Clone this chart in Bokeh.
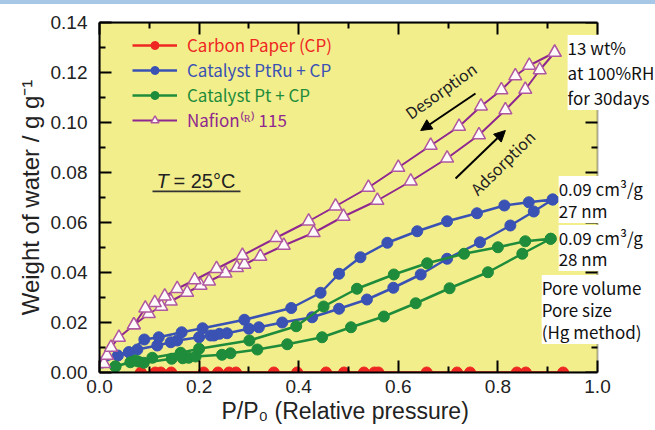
from bokeh.plotting import figure
from bokeh.layouts import column
from bokeh.models import (Range1d, LinearAxis, Legend, LegendItem, Label, Arrow, Title, Div,
                          NormalHead, BoxAnnotation, FixedTicker, NumeralTickFormatter)
from bokeh.embed import file_html
from bokeh.resources import INLINE

# ---------------- data ----------------
cp_x = [0.083, 0.112, 0.123, 0.144, 0.209, 0.238, 0.260, 0.274, 0.350, 0.397, 0.455,
        0.491, 0.531, 0.552, 0.560, 0.657, 0.718, 0.744, 0.838, 0.856, 0.931]
cp_y = [0.0] * len(cp_x)

ptru_ads_x = [0.005, 0.037, 0.059, 0.076, 0.116, 0.143, 0.156, 0.200, 0.223, 0.230, 0.241,
              0.256, 0.300, 0.320, 0.367, 0.427, 0.481, 0.537, 0.590, 0.645, 0.698, 0.764,
              0.825, 0.872, 0.910]
ptru_ads_y = [0.0040, 0.0068, 0.0081, 0.0092, 0.0108, 0.0121, 0.0128, 0.0141, 0.0148, 0.0148,
              0.0155, 0.0157, 0.0175, 0.0181, 0.0200, 0.0221, 0.0255, 0.0292, 0.0339, 0.0392,
              0.0455, 0.0521, 0.0588, 0.0644, 0.0692]
ptru_des_x = [0.910, 0.862, 0.813, 0.758, 0.698, 0.638, 0.578, 0.524, 0.481, 0.444, 0.385,
              0.291, 0.207, 0.165, 0.119, 0.090, 0.059]
ptru_des_y = [0.0692, 0.0681, 0.0668, 0.0637, 0.0605, 0.0565, 0.0519, 0.0461, 0.0395, 0.0319,
              0.0258, 0.0211, 0.0177, 0.0161, 0.0141, 0.0132, 0.0081]

pt_ads_x = [0.032, 0.062, 0.089, 0.145, 0.167, 0.179, 0.193, 0.246, 0.263, 0.317, 0.377,
            0.447, 0.505, 0.571, 0.635, 0.703, 0.780, 0.849, 0.906]
pt_ads_y = [0.0024, 0.0041, 0.0039, 0.0055, 0.0057, 0.0059, 0.0064, 0.0071, 0.0077, 0.0092,
            0.0113, 0.0141, 0.0181, 0.0224, 0.0277, 0.0337, 0.0401, 0.0475, 0.0535]
pt_des_x = [0.906, 0.855, 0.800, 0.732, 0.658, 0.591, 0.517, 0.450, 0.395, 0.301, 0.200,
            0.163, 0.106, 0.078, 0.072, 0.032]
pt_des_y = [0.0535, 0.0525, 0.0501, 0.0475, 0.0437, 0.0392, 0.0335, 0.0264, 0.0185, 0.0128,
            0.0095, 0.0079, 0.0059, 0.0044, 0.0048, 0.0024]

naf_ads_x = [0.009, 0.015, 0.023, 0.039, 0.069, 0.099, 0.124, 0.143, 0.176, 0.203, 0.220,
             0.253, 0.276, 0.291, 0.323, 0.370, 0.430, 0.490, 0.558, 0.625, 0.698, 0.762,
             0.815, 0.855, 0.884, 0.914]
naf_ads_y = [0.0035, 0.0068, 0.0100, 0.0140, 0.0190, 0.0235, 0.0264, 0.0285, 0.0320, 0.0348,
             0.0365, 0.0397, 0.0419, 0.0432, 0.0464, 0.0508, 0.0559, 0.0624, 0.0688, 0.0765,
             0.0857, 0.0950, 0.1050, 0.1132, 0.1210, 0.1280]
naf_des_x = [0.914, 0.863, 0.835, 0.807, 0.766, 0.722, 0.665, 0.600, 0.540, 0.474, 0.420,
             0.355, 0.287, 0.235, 0.191, 0.156, 0.131, 0.111, 0.092, 0.069]
naf_des_y = [0.1280, 0.1228, 0.1186, 0.1130, 0.1065, 0.0984, 0.0908, 0.0820, 0.0740, 0.0665,
             0.0605, 0.0539, 0.0468, 0.0415, 0.0370, 0.0335, 0.0305, 0.0279, 0.0257, 0.0190]

legend_labels = ["Carbon Paper (CP)", "Catalyst PtRu + CP", "Catalyst Pt + CP", "Nafion⁽ᴿ⁾ 115"]
x_ticks = [0.0, 0.2, 0.4, 0.6, 0.8, 1.0]
x_minor = [0.1, 0.3, 0.5, 0.7, 0.9]
y_ticks = [0.00, 0.02, 0.04, 0.06, 0.08, 0.10, 0.12, 0.14]
y_minor = [0.01, 0.03, 0.05, 0.07, 0.09, 0.11, 0.13]

# ---------------- style ----------------
RED = "#ee2722"
BLUE = "#3a52b4"
GREEN = "#1e8c3a"
PURPLE = "#8e278f"
TRI = "#b0589f"
BG = "#f3ee8c"
AXF = "Liberation Sans"
GF = "Noto Sans CJK JP"
TXT = "#222222"

PX_PER_X = 498.0           # pixel width of one x unit (plot box 0..1)
FRAME_W = 554              # frame extends right of x=1 to leave room for notes
BAR_H = 4                  # thin header strip above the chart

p = figure(width=655, height=430 - BAR_H, output_backend="svg", toolbar_location=None,
           x_range=Range1d(0, FRAME_W / PX_PER_X), y_range=Range1d(0, 0.14),
           min_border_left=99, min_border_right=655 - 99 - FRAME_W,
           min_border_top=22 - BAR_H, min_border_bottom=58, margin=0)
p.background_fill_color = "white"
p.border_fill_color = "white"
p.grid.visible = False
p.outline_line_color = None

# yellow plot box (x 0..1, y 0..0.14) with black right edge
p.add_layout(BoxAnnotation(left=0, right=1, bottom=0, top=0.14, fill_color=BG, fill_alpha=1.0,
                           line_color="black", line_width=2, level="underlay"))


def style_axis(ax, labels=True):
    ax.axis_line_width = 2
    ax.axis_line_color = "black"
    ax.major_tick_in = 12
    ax.major_tick_out = 0
    ax.minor_tick_in = 6
    ax.minor_tick_out = 0
    ax.major_tick_line_width = 2
    ax.minor_tick_line_width = 2
    ax.major_tick_line_color = "black"
    ax.minor_tick_line_color = "black"
    if labels:
        ax.major_label_text_font = AXF
        ax.major_label_text_font_size = "19px"
        ax.major_label_text_color = TXT
    else:
        ax.major_label_text_color = None
        ax.major_label_standoff = 0


p.xaxis.ticker = FixedTicker(ticks=x_ticks, minor_ticks=x_minor)
p.yaxis.ticker = FixedTicker(ticks=y_ticks, minor_ticks=y_minor)
p.xaxis.formatter = NumeralTickFormatter(format="0.0")
p.yaxis.formatter = NumeralTickFormatter(format="0.00")
p.xaxis.bounds = (0, 1)
style_axis(p.xaxis[0])
style_axis(p.yaxis[0])
p.xaxis.major_label_standoff = 7
p.yaxis.major_label_standoff = 12
p.yaxis.axis_label = "Weight of water / g g⁻¹"
p.yaxis.axis_label_text_font = AXF
p.yaxis.axis_label_text_font_size = "24px"
p.yaxis.axis_label_text_font_style = "normal"
p.yaxis.axis_label_text_color = TXT
p.yaxis.axis_label_standoff = 4

top = LinearAxis(ticker=FixedTicker(ticks=x_ticks, minor_ticks=x_minor), bounds=(0, 1))
style_axis(top, labels=False)
p.add_layout(top, "above")

# x-axis title
p.add_layout(Title(text="P/P₀ (Relative pressure)", align="left", offset=122,
                   text_font=AXF, text_font_size="23px", text_font_style="normal",
                   text_color=TXT, standoff=0), "below")

# right-edge ticks of the plot box (at x = 1)
p.segment(x0=[1.0] * len(y_ticks), y0=y_ticks, x1=[1.0 - 12 / PX_PER_X] * len(y_ticks),
          y1=y_ticks, line_color="black", line_width=2)
p.segment(x0=[1.0] * len(y_minor), y0=y_minor, x1=[1.0 - 6 / PX_PER_X] * len(y_minor),
          y1=y_minor, line_color="black", line_width=2)

# ---------------- series ----------------
r_cp_l = p.line(cp_x, cp_y, line_color=RED, line_width=2.5)
r_cp_m = p.scatter(cp_x, cp_y, marker="circle", size=11, fill_color=RED, line_color=RED)

ptru_x = ptru_ads_x + ptru_des_x
ptru_y = ptru_ads_y + ptru_des_y
r_ptru_l = p.line(ptru_x, ptru_y, line_color=BLUE, line_width=2.5)
r_ptru_m = p.scatter(ptru_x, ptru_y, marker="circle", size=11, fill_color=BLUE, line_color=BLUE)

pt_x = pt_ads_x + pt_des_x
pt_y = pt_ads_y + pt_des_y
r_pt_l = p.line(pt_x, pt_y, line_color=GREEN, line_width=2.5)
r_pt_m = p.scatter(pt_x, pt_y, marker="circle", size=11, fill_color=GREEN, line_color=GREEN)

naf_x = naf_ads_x + naf_des_x
naf_y = naf_ads_y + naf_des_y
r_naf_l = p.line(naf_x, naf_y, line_color=PURPLE, line_width=2)
r_naf_m = p.scatter(naf_x, naf_y, marker="triangle", size=13, fill_color="#fffafc",
                    line_color=TRI, line_width=1.5)

# ---------------- legends ----------------
groups = [([r_cp_l, r_cp_m], RED), ([r_ptru_l, r_ptru_m], BLUE),
          ([r_pt_l, r_pt_m], GREEN), ([r_naf_l, r_naf_m], PURPLE)]
for i, (lab, (rends, col)) in enumerate(zip(legend_labels, groups)):
    lg = Legend(items=[LegendItem(label=lab, renderers=rends)],
                location=(33, 315 - 25 * i), padding=0, margin=0, spacing=0,
                glyph_width=45, glyph_height=20, label_height=20, label_standoff=10,
                label_text_font=GF, label_text_font_size="17px", label_text_color=col,
                border_line_color=None, background_fill_alpha=0)
    p.add_layout(lg)

# ---------------- annotations ----------------
def note(x, y, text):
    p.add_layout(Label(x=x, y=y, text=text, text_font=GF, text_font_size="17px",
                       text_color="#111111", text_baseline="middle",
                       background_fill_color="white", background_fill_alpha=1.0))

note(0.940, 0.130, "13 wt%")
note(0.940, 0.120, "at 100%RH")
note(0.940, 0.110, "for 30days")
note(0.922, 0.0736, "0.09 cm³/g")
note(0.922, 0.0648, "27 nm")
note(0.922, 0.0540, "0.09 cm³/g")
note(0.922, 0.0456, "28 nm")
note(0.888, 0.0340, "Pore volume")
note(0.888, 0.0252, "Pore size")
note(0.888, 0.0164, "(Hg method)")

# T = 25 C
p.add_layout(Label(x=0.1145, y=0.0768, text="T", text_font=AXF, text_font_size="20px",
                   text_font_style="italic", text_color=TXT, text_baseline="middle"))
p.add_layout(Label(x=0.1486, y=0.0768, text="= 25°C", text_font=AXF, text_font_size="20px",
                   text_color=TXT, text_baseline="middle"))
p.add_layout(BoxAnnotation(left=0.1064, right=0.2831, bottom=0.0721, top=0.0728,
                           fill_color="#333333", fill_alpha=1.0, line_color=None))

# arrows + texts
p.add_layout(Arrow(end=NormalHead(size=11, fill_color="black", line_color="black"),
                   x_start=0.755, y_start=0.1116, x_end=0.645, y_end=0.0968,
                   line_width=2, line_color="black"))
p.add_layout(Arrow(end=NormalHead(size=11, fill_color="black", line_color="black"),
                   x_start=0.715, y_start=0.0776, x_end=0.815, y_end=0.0968,
                   line_width=2, line_color="black"))
p.add_layout(Label(x=0.685, y=0.1128, text="Desorption", text_font=GF, text_font_size="16px",
                   text_color=TXT, text_align="center", text_baseline="middle", angle=0.62))
p.add_layout(Label(x=0.809, y=0.084, text="Adsorption", text_font=GF, text_font_size="16px",
                   text_color=TXT, text_align="center", text_baseline="middle", angle=0.78))

bar = Div(text="", width=655, height=BAR_H, margin=0,
          styles={"background-color": "#a7c7e7", "padding": "0", "margin": "0"})
layout = column(bar, p, spacing=0, margin=0)

open("out.html", "w").write(file_html(layout, INLINE))
